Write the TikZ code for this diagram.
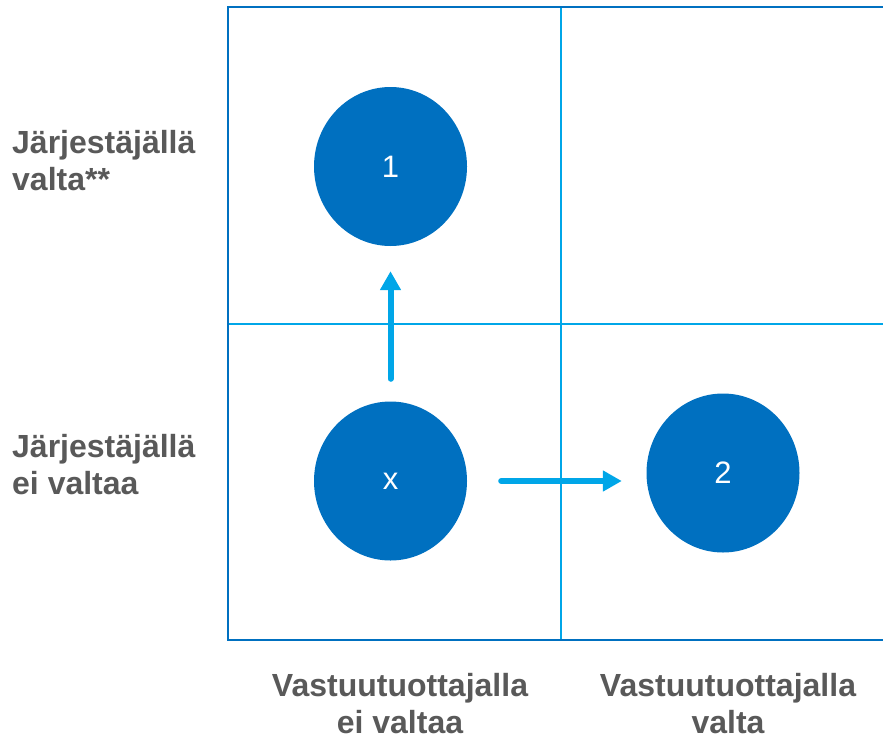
\documentclass[tikz,border=0pt]{standalone}
\usepackage{fontspec}
\setmainfont{Liberation Sans}
\usetikzlibrary{arrows.meta,shapes.geometric}

\definecolor{darkblue}{RGB}{0,112,192}
\definecolor{lightblue}{RGB}{0,166,232}
\definecolor{labelgray}{RGB}{89,89,89}

\tikzset{
  ball/.style={ellipse, fill=darkblue, minimum width=153pt, minimum height=159pt,
    inner sep=0pt, text=white, font=\fontsize{31}{33}\selectfont},
  axislabel/.style={text=labelgray, font=\bfseries\fontsize{32}{37}\selectfont, inner sep=0pt},
  move/.style={lightblue, line width=6pt, line cap=round, -{Triangle[length=19pt,width=20pt]}}
}

\begin{document}
\begin{tikzpicture}[x=1pt,y=-1pt]
\useasboundingbox (0,0) rectangle (883,739);
% grid
\draw[lightblue, line width=1.8pt] (561,7) -- (561,640);
\draw[lightblue, line width=1.8pt] (228,324) -- (883,324);
\draw[darkblue, line width=2pt] (883,7) -- (228,7) -- (228,640) -- (883,640);
% circles
\node[ball] (n1) at (390.5,166.5) {1};
\node[ball] (nx) at (390.5,481) {x};
\node[ball] (n2) at (723,473) {2};
\draw[move, shorten <=22.5pt, shorten >=25pt] (nx.north) -- (n1.south);
\draw[move, shorten <=34pt, shorten >=24.5pt] (nx.east) -- (nx.east -| n2.west);
% labels
\node[axislabel, anchor=base west, align=left] (rowtop) at (12,190) {Järjestäjällä\\valta**};
\node[axislabel, anchor=base west, align=left] (rowlow) at (12,494) {Järjestäjällä\\ei valtaa};
\node[axislabel, anchor=base, align=center] (colleft) at (400,733) {Vastuutuottajalla\\ei valtaa};
\node[axislabel, anchor=base, align=center] (colright) at (728,733) {Vastuutuottajalla\\valta};
\end{tikzpicture}
\end{document}
